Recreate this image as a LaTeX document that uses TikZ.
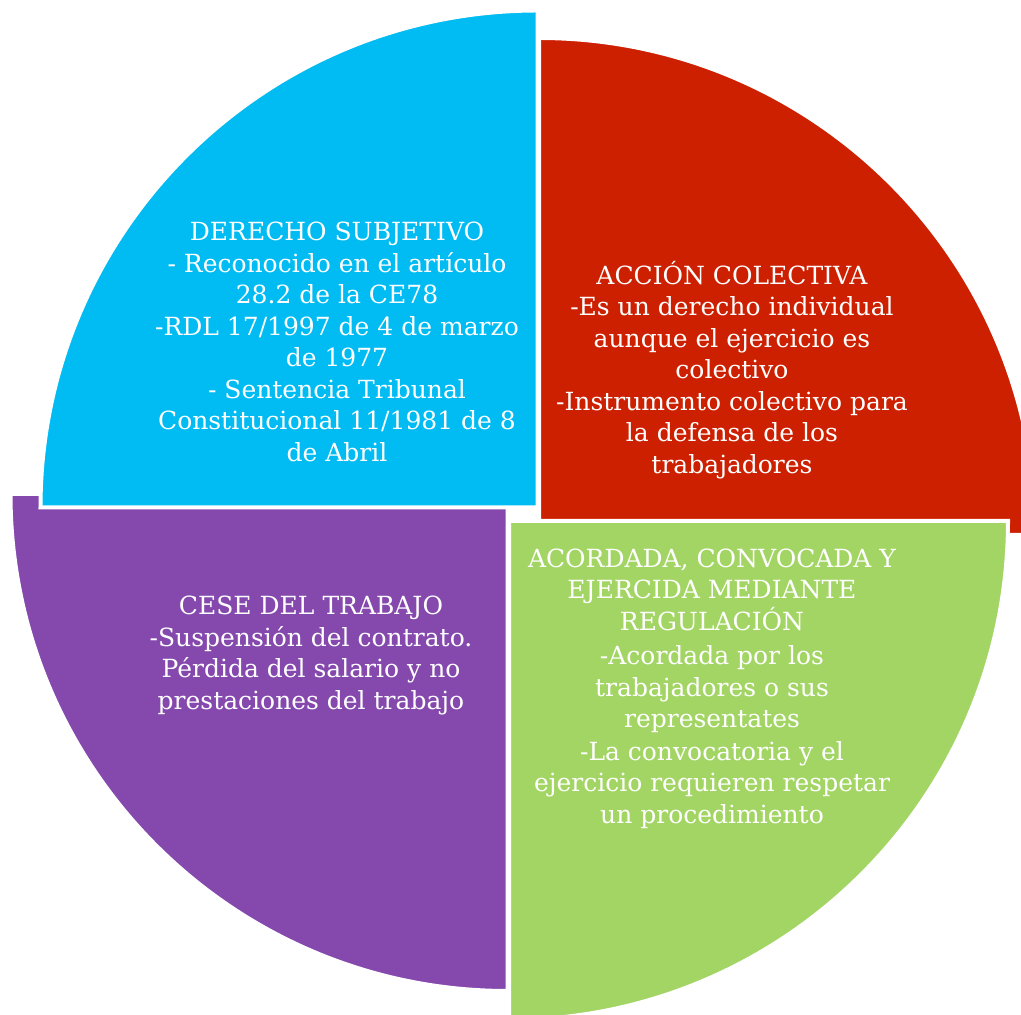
\documentclass[tikz,border=0pt]{standalone}
\usepackage{fontspec}
\setmainfont{DejaVu Serif}
\definecolor{qblue}{HTML}{00BCF2}
\definecolor{qred}{HTML}{CD2000}
\definecolor{qgreen}{HTML}{A3D565}
\definecolor{qpurple}{HTML}{8549AE}
\tikzset{
  wedge/.style={draw=white, line width=4pt},
  qtext/.style={text=white, align=center, font={\fontsize{25}{31.5}\selectfont}, inner sep=0pt}
}
\begin{document}
\begin{tikzpicture}[x=1pt,y=1pt]
\useasboundingbox (0,0) rectangle (1021,1015);
\clip (0,0) rectangle (1021,1015);
% purple (bottom-left)
\coordinate (cp) at (507.5,521);
\fill[qpurple, wedge] (cp) -- ++(0,-497) arc[start angle=270,end angle=180,radius=497] -- cycle;
% blue (top-left)
\coordinate (cb) at (537.5,507.5);
\fill[qblue, wedge] (cb) -- ++(0,497) arc[start angle=90,end angle=180,radius=497] -- cycle;
% red (top-right)
\coordinate (cr) at (539,480);
\fill[qred, wedge] (cr) -- ++(497,0) arc[start angle=0,end angle=90,radius=497] -- cycle;
% green (bottom-right)
\coordinate (cg) at (509,494);
\fill[qgreen, wedge] (cg) -- ++(499,0) arc[start angle=360,end angle=270,radius=499] -- cycle;

\node[qtext] (tblue) at (337,673) {DERECHO SUBJETIVO\\- Reconocido en el artículo\\28.2 de la CE78\\-RDL 17/1997 de 4 de marzo\\de 1977\\- Sentencia Tribunal\\Constitucional 11/1981 de 8\\de Abril};
\node[qtext] (tred) at (732,645) {ACCIÓN COLECTIVA\\-Es un derecho individual\\aunque el ejercicio es\\colectivo\\-Instrumento colectivo para\\la defensa de los\\trabajadores};
\node[qtext] (tgreen) at (712,326.5) {ACORDADA, CONVOCADA Y\\EJERCIDA MEDIANTE\\REGULACIÓN\\[3pt]-Acordada por los\\trabajadores o sus\\representates\\[1pt]-La convocatoria y el\\ejercicio requieren respetar\\un procedimiento};
\node[qtext] (tpurple) at (311,359.5) {CESE DEL TRABAJO\\-Suspensión del contrato.\\Pérdida del salario y no\\prestaciones del trabajo};
\end{tikzpicture}
\end{document}
